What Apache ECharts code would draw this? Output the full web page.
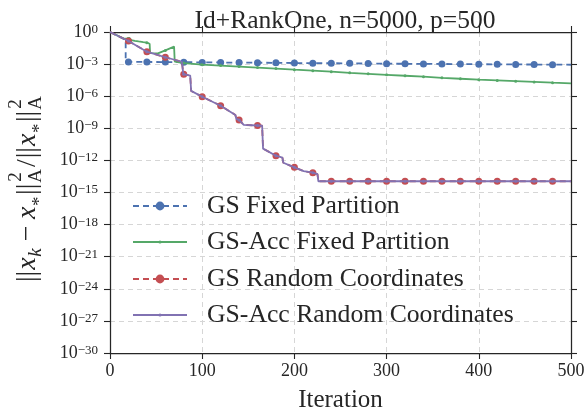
<!DOCTYPE html>
<html><head><meta charset="utf-8">
<script src="https://cdn.jsdelivr.net/npm/echarts@6/dist/echarts.min.js"></script>
<style>html,body{margin:0;padding:0;background:#fff}#c{width:587px;height:410px}</style>
</head><body><div id="c"></div>
<script>
const titleText = 'Id+RankOne, n=5000, p=500';
const xName = 'Iteration';
const seriesNames = ['GS Fixed Partition', 'GS-Acc Fixed Partition', 'GS Random Coordinates', 'GS-Acc Random Coordinates'];
const markerIters = [20,40,60,80,100,120,140,160,180,200,220,240,260,280,300,320,340,360,380,400,420,440,460,480];
// [iteration, log10 of relative error]
const gsFixed = [[0,0],[17,-0.74],[17,-2.78],[20,-2.8],[40,-2.8],[60,-2.81],[80,-2.82],[100,-2.84],[120,-2.85],[140,-2.86],[160,-2.87],[180,-2.88],[200,-2.9],[220,-2.91],[240,-2.92],[260,-2.93],[280,-2.95],[300,-2.96],[320,-2.97],[340,-2.98],[360,-2.99],[380,-3.0],[400,-3.01],[420,-3.02],[440,-3.03],[460,-3.04],[480,-3.05],[500,-3.06]];
const gsAccFixed = [[0,0],[15,-0.62],[18,-0.62],[20,-0.6],[21,-0.55],[23,-0.75],[25,-0.62],[27,-0.82],[29,-0.68],[31,-0.88],[33,-0.75],[36,-0.95],[38,-0.85],[40,-1.0],[41,-1.1],[43,-1.1],[43.5,-1.98],[52,-2.0],[60,-1.72],[69.5,-1.37],[70.2,-2.76],[80,-2.9],[100,-3.05],[120,-3.14],[140,-3.23],[160,-3.32],[180,-3.42],[200,-3.52],[220,-3.61],[240,-3.71],[260,-3.82],[280,-3.91],[300,-4.0],[320,-4.09],[340,-4.18],[360,-4.28],[380,-4.37],[400,-4.46],[420,-4.53],[440,-4.6],[460,-4.67],[480,-4.74],[500,-4.8]];
const gsRandom = [[0,0],[20,-0.84],[40,-1.84],[60,-2.36],[78,-2.78],[79.5,-3.93],[80,-3.95],[87,-4.07],[88,-5.5],[89,-5.62],[100,-6.05],[120,-6.89],[136,-7.75],[137,-8.12],[140,-8.22],[145,-8.68],[160,-8.74],[165,-8.76],[166,-10.9],[180,-11.56],[187,-11.75],[188,-12.22],[200,-12.65],[210,-13.0],[220,-13.15],[225,-13.28],[226,-13.95],[240,-13.95],[260,-13.95],[280,-13.95],[300,-13.95],[320,-13.95],[340,-13.95],[360,-13.95],[380,-13.95],[400,-13.95],[420,-13.95],[440,-13.95],[460,-13.95],[480,-13.95],[500,-13.95]];
const gsAccRandom = [[0,0],[20,-0.84],[40,-1.84],[60,-2.36],[78,-2.78],[79.5,-3.93],[80,-3.95],[87,-4.07],[88,-5.5],[89,-5.62],[100,-6.05],[120,-6.89],[136,-7.75],[137,-8.12],[140,-8.22],[145,-8.68],[160,-8.74],[165,-8.76],[166,-10.9],[180,-11.56],[187,-11.75],[188,-12.22],[200,-12.65],[210,-13.0],[220,-13.15],[225,-13.28],[226,-13.95],[240,-13.95],[260,-13.95],[280,-13.95],[300,-13.95],[320,-13.95],[340,-13.95],[360,-13.95],[380,-13.95],[400,-13.95],[420,-13.95],[440,-13.95],[460,-13.95],[480,-13.95],[500,-13.95]];

const FAM = 'Liberation Serif';
const TXT = '#262626';
const colors = ['#4C72B0', '#55A868', '#C44E52', '#8172B2'];
const dashed = [true, false, true, false];
const mSize = [7, 3, 7, 3];
const legendH = [11, 4, 11, 4];
const rowCenters = [206, 242, 279, 315];
const allData = [gsFixed, gsAccFixed, gsRandom, gsAccRandom];

const series = allData.map((d, i) => ({
  type: 'line', name: seriesNames[i], z: 2 + i,
  data: d.map(p => ({ value: p, symbol: markerIters.includes(p[0]) ? 'circle' : 'none' })),
  symbol: 'circle', symbolSize: mSize[i], showSymbol: true,
  lineStyle: { color: colors[i], width: 1.8, type: dashed[i] ? [6, 4] : 'solid' },
  itemStyle: { color: colors[i] },
  emphasis: { disabled: true }, silent: true, animation: false
}));

const legends = seriesNames.map((n, i) => ({
  data: [n], left: 132, top: rowCenters[i] - 13, orient: 'horizontal',
  itemWidth: 54, itemHeight: legendH[i], selectedMode: false, padding: 0,
  textStyle: { fontFamily: FAM, fontSize: 25.7, color: TXT, lineHeight: 26, padding: [0, 0, 0, 15] }
}));

// y-axis name layout (math-like)
const cv = document.createElement('canvas').getContext('2d');
function mw(t, size, it) { cv.font = (it ? 'italic ' : '') + size + 'px "' + FAM + '"'; return cv.measureText(t).width; }
const yNameParts = [['||','n'],['x','i'],['k','sub'],['\u2009\u2212\u2009','n'],['x','i'],['*','sub'],['||','n'],['2|A','stack'],['/','n'],['||','n'],['x','i'],['*','sub'],['||','n'],['2|A','stack']];
function layoutYName(F) {
  const s = Math.round(F * 0.68);
  let x = 0; const kids = [];
  const add = (t, size, it, dx, dy) => kids.push({ type: 'text', x: x + dx, y: dy, silent: true,
    style: { text: t, fontFamily: FAM, fontSize: size, fontStyle: it ? 'italic' : 'normal', fill: TXT, align: 'left', verticalAlign: 'middle' } });
  yNameParts.forEach(([t, k]) => {
    if (k === 'n') { add(t, F, false, 0, 0); x += mw(t, F, false) + 1; }
    else if (k === 'i') { add(t, F, true, 0, 0); x += mw(t, F, true) + 0.5; }
    else if (k === 'sub') { const dy = t === '*' ? F * 0.42 : F * 0.28; add(t, s, t !== '*', 0, dy); x += mw(t, s, true) + 1.5; }
    else { const [a, b] = t.split('|'); add(a, s, false, 1, -F * 0.42); add(b, s, false, 0, F * 0.3); x += Math.max(mw(a, s), mw(b, s)) + 2; }
  });
  return { kids, w: x };
}
let F = 25; let L = layoutYName(F);
F = F * 190 / L.w; L = layoutYName(F);

const supLabel = v => '{b|10}{s|' + (v === 0 ? '0' : '\u2212' + (-v)) + '}';

const axisCommon = {
  axisLine: { show: true, onZero: false, lineStyle: { color: TXT, width: 1.25 } },
  axisTick: { show: true, inside: false, length: 6, lineStyle: { color: TXT, width: 1.1 } },
  splitLine: { show: false }
};
const gridLine = { show: true, lineStyle: { color: '#d6d6d6', type: [5, 4], width: 1 } };

const option = {
  backgroundColor: '#fff',
  animation: false,
  title: { text: titleText, left: 340, top: 3, textAlign: 'center',
    textStyle: { fontFamily: FAM, fontSize: 25.5, fontWeight: 'normal', color: TXT } },
  grid: { left: 110, right: 16, top: 32, bottom: 57, containLabel: false, outerBoundsMode: 'none' },
  legend: legends,
  xAxis: [
    Object.assign({}, axisCommon, { type: 'value', min: 0, max: 500, interval: 100, position: 'bottom',
      splitLine: gridLine,
      axisLabel: { fontFamily: FAM, fontSize: 18, color: TXT, margin: 9 },
      name: xName, nameLocation: 'middle', nameGap: 35,
      nameTextStyle: { fontFamily: FAM, fontSize: 25, color: TXT } }),
    Object.assign({}, axisCommon, { type: 'value', min: 0, max: 500, interval: 100, position: 'top',
      axisLabel: { show: false } })
  ],
  yAxis: [
    Object.assign({}, axisCommon, { type: 'value', min: -30, max: 0, interval: 3, position: 'left',
      splitLine: gridLine,
      axisLabel: { margin: 12, formatter: supLabel,
        rich: {
          b: { fontFamily: FAM, fontSize: 18, color: TXT, lineHeight: 18, padding: [5, 0, 0, 0], verticalAlign: 'bottom' },
          s: { fontFamily: FAM, fontSize: 13, color: TXT, lineHeight: 14, verticalAlign: 'top' }
        } } }),
    Object.assign({}, axisCommon, { type: 'value', min: -30, max: 0, interval: 3, position: 'right',
      axisLabel: { show: false } })
  ],
  graphic: [{ type: 'group', x: 28, y: 282, rotation: Math.PI / 2, silent: true, children: L.kids }],
  series: series
};
const chart = echarts.init(document.getElementById('c'), null, { renderer: 'canvas' });
chart.setOption(option);
</script></body></html>
